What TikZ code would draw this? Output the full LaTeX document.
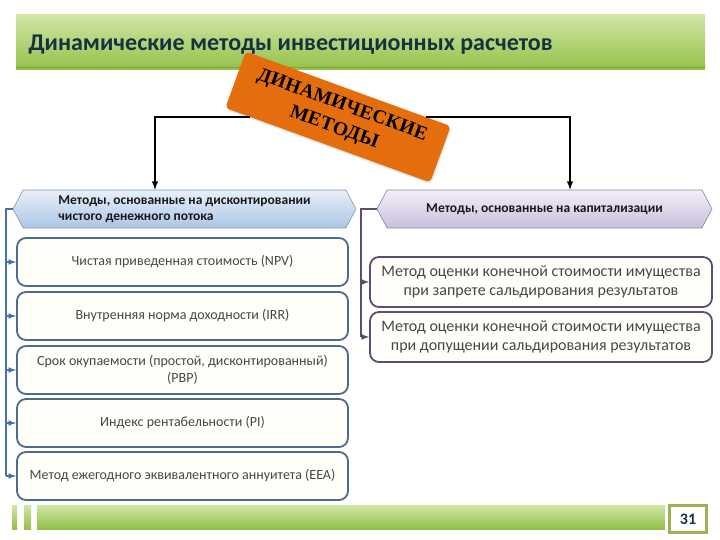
\documentclass[tikz,border=0pt]{standalone}
\usepackage{fontspec}
\setmainfont{Carlito}
\newfontfamily\stampfont[LetterSpace=2]{Liberation Serif}
\usetikzlibrary{shapes.symbols,shadows}

\definecolor{titlegreen}{RGB}{148,192,72}
\definecolor{lightgreen}{RGB}{208,230,165}
\definecolor{titleink}{RGB}{22,50,66}
\definecolor{stamporange}{RGB}{228,110,14}
\definecolor{frameblue}{RGB}{78,106,140}
\definecolor{spineblue}{RGB}{70,112,172}
\definecolor{framepurple}{RGB}{92,78,112}
\definecolor{hdrblueT}{RGB}{232,239,249}
\definecolor{hdrblueB}{RGB}{172,198,230}
\definecolor{hdrlilacT}{RGB}{242,238,248}
\definecolor{hdrlilacB}{RGB}{202,190,220}
\definecolor{boxfill}{RGB}{255,254,248}
\definecolor{pageolive}{RGB}{158,176,88}

\begin{document}
\begin{tikzpicture}[x=1pt, y=-1pt,
		hdr/.style={signal, signal to=west and east, signal pointer angle=124,
			minimum height=38pt, inner sep=0pt, font=\bfseries\fontsize{13.5}{15.5}\selectfont, text=black!90},
		itemL/.style={draw=frameblue, line width=1.8pt, rounded corners=9pt, fill=boxfill,
			minimum width=331pt, minimum height=48pt, align=center, text=black!72,
			font=\fontsize{14}{16.5}\selectfont},
		itemR/.style={itemL, draw=framepurple, minimum width=342pt, minimum height=50pt,
			font=\fontsize{16}{19.5}\selectfont},
		spineL/.style={draw=spineblue, line width=1.6pt},
		spineR/.style={draw=framepurple, line width=1.6pt},
		conn/.style={draw=black, line width=1.8pt, -latex}]
		\useasboundingbox (0,0) rectangle (720,540);
		\fill[white] (0,0) rectangle (720,540);

		% title bar
		\shade[top color=lightgreen, bottom color=titlegreen] (16,15) rectangle (705,70);
		\draw[titlegreen!85!black, line width=0.6pt] (16,67) -- (705,67);
		\node[anchor=west, text=titleink, font=\bfseries\fontsize{24}{28}\selectfont] (title) at (25,45)
			{Динамические методы инвестиционных расчетов};

		% central stamp
		\node[fill=stamporange, rounded corners=4pt, minimum width=218pt, minimum height=60pt,
			rotate=-20, drop shadow={opacity=0.2, shadow xshift=1pt, shadow yshift=-2pt},
			align=center, font=\stampfont\bfseries\fontsize{19.5}{24}\selectfont] (dyn) at (338,117)
			{ДИНАМИЧЕСКИЕ\\МЕТОДЫ};

		% group headers
		\node[hdr, minimum width=343pt, shade, top color=hdrblueT, bottom color=hdrblueB,
			draw=frameblue!70, line width=0.6pt, align=left] (hdrL) at (184.5,209)
			{Методы, основанные на дисконтировании\\чистого денежного потока};
		\node[hdr, minimum width=335pt, shade, top color=hdrlilacT, bottom color=hdrlilacB,
			draw=framepurple!70, line width=0.6pt] (hdrR) at (544.5,209)
			{Методы, основанные на капитализации};

		\draw[conn] (dyn) -| ([xshift=-29.5pt]hdrL.north);
		\draw[conn] (dyn) -| ([xshift=25.5pt]hdrR.north);

		% discounting methods
		\node[itemL] (npv) at (182.5,262) {Чистая приведенная стоимость (NPV)};
		\node[itemL] (irr) at (182.5,316) {Внутренняя норма доходности (IRR)};
		\node[itemL] (pbp) at (182.5,370) {Срок окупаемости (простой, дисконтированный)\\(PBP)};
		\node[itemL] (pi) at (182.5,423) {Индекс рентабельности (PI)};
		\node[itemL] (eea) at (182.5,476) {Метод ежегодного эквивалентного аннуитета (EEA)};

		\coordinate (axL) at (6,209);
		\draw[spineL] (hdrL.west) -| (eea.west -| axL);
		\foreach \b in {npv,irr,pbp,pi,eea}
			\draw[spineL, -latex] (\b.west -| axL) -- (\b.west);

		% capitalisation methods
		\node[itemR] (fv1) at (541,282) {Метод оценки конечной стоимости имущества\\при запрете сальдирования результатов};
		\node[itemR] (fv2) at (541,337) {Метод оценки конечной стоимости имущества\\при допущении сальдирования результатов};

		\coordinate (axR) at (361,209);
		\draw[spineR] (hdrR.west) -| (fv2.west -| axR);
		\foreach \b in {fv1,fv2}
			\draw[spineR, -latex] (\b.west -| axR) -- (\b.west);

		% footer
		\shade[top color=lightgreen, bottom color=titlegreen] (12,505) rectangle (17,529);
		\shade[top color=lightgreen, bottom color=titlegreen] (24,505) rectangle (31,529);
		\shade[top color=lightgreen, bottom color=titlegreen] (37,505) rectangle (665,529);
		\node[draw=pageolive, line width=3pt, fill=white, minimum width=37pt, minimum height=27pt,
			text=titleink, font=\bfseries\fontsize{16}{18}\selectfont] (page) at (688,519) {31};
\end{tikzpicture}
\end{document}
